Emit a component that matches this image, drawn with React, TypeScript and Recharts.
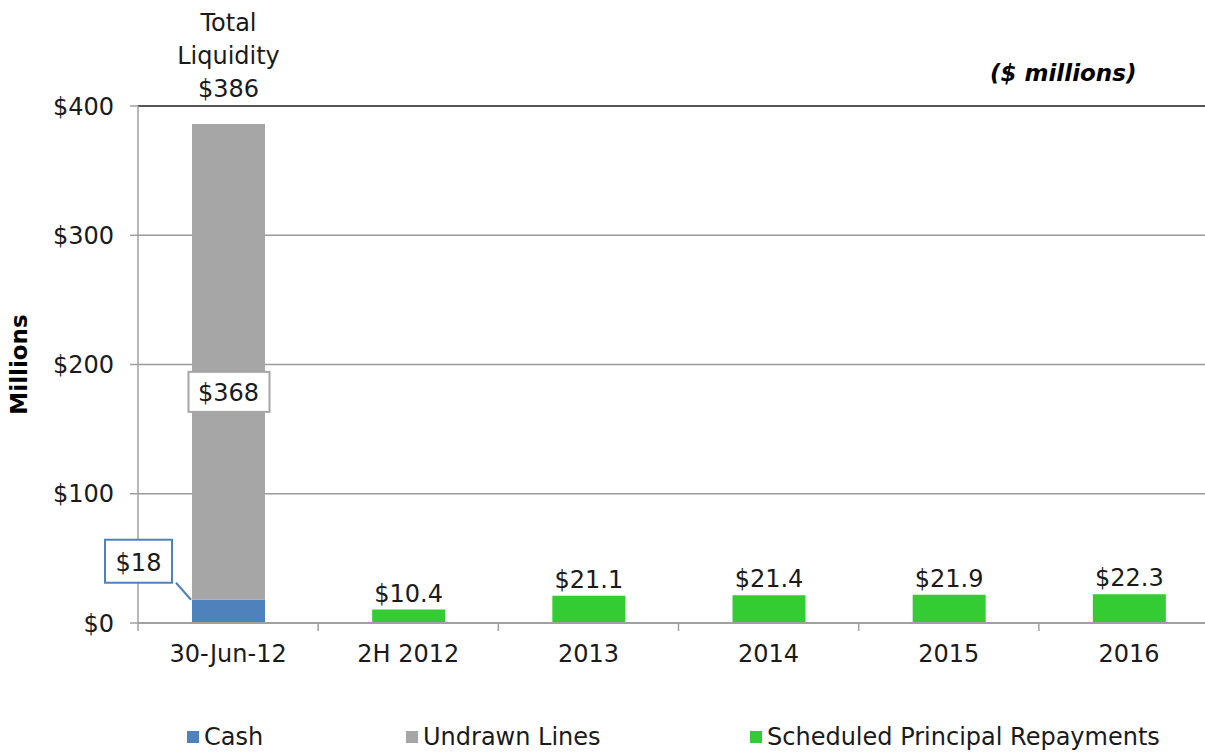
import { Bar, BarChart, CartesianGrid, LabelList, ReferenceLine, XAxis, YAxis } from "recharts";

const categories = ["30-Jun-12", "2H 2012", "2013", "2014", "2015", "2016"];
const cash = [18, null, null, null, null, null];
const undrawnLines = [368, null, null, null, null, null];
const repayments = [null, 10.4, 21.1, 21.4, 21.9, 22.3];
const yTicks = [0, 100, 200, 300, 400];

const legendItems = [
  { name: "Cash", color: "#4f81bd", left: 187 },
  { name: "Undrawn Lines", color: "#a6a6a6", left: 406 },
  { name: "Scheduled Principal Repayments", color: "#33cc33", left: 750 }
];

const data = categories.map((cat, i) => ({
  cat,
  cash: cash[i],
  undrawn: undrawnLines[i],
  repay: repayments[i]
}));

const FONT = "'DejaVu Sans', sans-serif";
const TEXT = "#1a1a1a";
const CHART_W = 1225;
const PLOT_LEFT = 138;
const PLOT_RIGHT = 6;
const BAND = (CHART_W - PLOT_LEFT - PLOT_RIGHT) / categories.length;

function XTick(props: any) {
  const { x, y, payload } = props;
  return (
    <g>
      <line x1={x - BAND / 2} x2={x - BAND / 2} y1={y} y2={y + 8} stroke="#a0a0a0" strokeWidth={1.5} />
      <text x={x} y={y + 22} dy="0.71em" textAnchor="middle" fontSize={24} fontFamily={FONT} fill={TEXT}>
        {payload.value}
      </text>
    </g>
  );
}

function RepayLabel(props: any) {
  const { x, y, width, value } = props;
  if (value == null || value === 0) return null;
  return (
    <text x={x + width / 2} y={y - 8} textAnchor="middle" fontSize={24} fontFamily={FONT} fill={TEXT}>
      {`$${value}`}
    </text>
  );
}

function UndrawnLabel(props: any) {
  const { x, y, width, height, value, index } = props;
  if (value == null || value === 0) return null;
  const cx = x + width / 2;
  const boxY = y + height * 0.563;
  const total = (cash[index] ?? 0) + (undrawnLines[index] ?? 0);
  return (
    <g>
      <rect x={cx - 40} y={boxY - 20} width={81} height={40} fill="#fff" stroke="#a6a6a6" strokeWidth={2} />
      <text x={cx} y={boxY + 9} textAnchor="middle" fontSize={24} fontFamily={FONT} fill={TEXT}>
        {`$${value}`}
      </text>
      <text textAnchor="middle" fontSize={24} fontFamily={FONT} fill={TEXT}>
        <tspan x={cx} y={y - 93}>Total</tspan>
        <tspan x={cx} y={y - 60}>Liquidity</tspan>
        <tspan x={cx} y={y - 27}>{`$${total}`}</tspan>
      </text>
    </g>
  );
}

function CashLabel(props: any) {
  const { x, y, value } = props;
  if (value == null || value === 0) return null;
  return (
    <g>
      <line x1={x - 16} y1={y - 17} x2={x - 1} y2={y} stroke="#4f81bd" strokeWidth={2} />
      <rect x={x - 87} y={y - 60} width={67} height={43} fill="#fff" stroke="#4f81bd" strokeWidth={2} />
      <text x={x - 53.5} y={y - 29} textAnchor="middle" fontSize={24} fontFamily={FONT} fill={TEXT}>
        {`$${value}`}
      </text>
    </g>
  );
}

export default function App() {
  return (
    <div style={{ position: "absolute", left: 0, top: 0, width: 1205, height: 754, overflow: "hidden", background: "#fff" }}>
      <BarChart
        width={CHART_W}
        height={754}
        data={data}
        margin={{ top: 106, right: PLOT_RIGHT, bottom: 91, left: 0 }}
        barSize={73}
      >
        <CartesianGrid vertical={false} stroke="#9a9a9a" strokeWidth={1.5} />
        <ReferenceLine y={400} stroke="#555" strokeWidth={2} />
        <XAxis
          dataKey="cat"
          height={40}
          tickLine={false}
          tickSize={0}
          tickMargin={0}
          axisLine={{ stroke: "#a0a0a0", strokeWidth: 2 }}
          tick={<XTick />}
          interval={0}
        />
        <YAxis
          width={PLOT_LEFT}
          domain={[0, 400]}
          ticks={yTicks}
          tickFormatter={(v: number) => `$${v}`}
          tickSize={8}
          tickMargin={16}
          axisLine={{ stroke: "#a0a0a0", strokeWidth: 1.5 }}
          tickLine={{ stroke: "#a0a0a0", strokeWidth: 1.5 }}
          tick={{ fontSize: 24, fontFamily: FONT, fill: TEXT }}
          label={{
            value: "Millions",
            angle: -90,
            position: "insideLeft",
            dx: 14,
            style: { fontSize: 23, fontWeight: "bold", fontFamily: FONT, fill: "#000", textAnchor: "middle" }
          }}
        />
        <Bar dataKey="cash" stackId="s" fill="#4f81bd" isAnimationActive={false}>
          <LabelList dataKey="cash" content={<CashLabel />} />
        </Bar>
        <Bar dataKey="undrawn" stackId="s" fill="#a6a6a6" isAnimationActive={false}>
          <LabelList dataKey="undrawn" content={<UndrawnLabel />} />
        </Bar>
        <Bar dataKey="repay" stackId="s" fill="#33cc33" isAnimationActive={false}>
          <LabelList dataKey="repay" content={<RepayLabel />} />
        </Bar>
      </BarChart>
      <div
        style={{
          position: "absolute",
          left: 990,
          top: 60,
          fontFamily: FONT,
          fontSize: 23,
          fontWeight: "bold",
          fontStyle: "italic",
          color: "#000",
          whiteSpace: "nowrap"
        }}
      >
        ($ millions)
      </div>
      {legendItems.map((item) => (
        <div
          key={item.name}
          style={{
            position: "absolute",
            left: item.left,
            top: 723,
            height: 28,
            display: "flex",
            alignItems: "center",
            fontFamily: FONT,
            fontSize: 24,
            color: TEXT,
            whiteSpace: "nowrap"
          }}
        >
          <span style={{ width: 12, height: 12, background: item.color, marginRight: 5, display: "inline-block" }} />
          {item.name}
        </div>
      ))}
    </div>
  );
}
